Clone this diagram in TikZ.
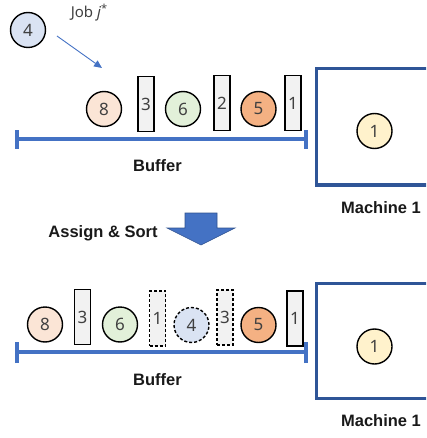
\documentclass[tikz,border=0pt]{standalone}
\usepackage{fontspec}
\setmainfont{Noto Sans}
\newfontfamily\lblfont{Liberation Sans}
\usetikzlibrary{arrows.meta}
\definecolor{bufblue}{HTML}{4472C4}
\definecolor{machblue}{HTML}{2F5597}
\definecolor{arrowedge}{HTML}{2F528F}
\definecolor{cpeach}{HTML}{FBE5D6}
\definecolor{cgreen}{HTML}{E2F0D9}
\definecolor{corange}{HTML}{F4B183}
\definecolor{cblue}{HTML}{DAE3F3}
\definecolor{cyellow}{HTML}{FFF2CC}
\definecolor{cgray}{HTML}{F2F2F2}
\definecolor{txtgray}{HTML}{404040}
\tikzset{
  job/.style={circle, draw=black, line width=1.4pt, minimum size=35pt, inner sep=0pt,
    font=\fontsize{17}{17}\selectfont, text=txtgray},
  bar/.style={rectangle, draw=black, line width=1.4pt, fill=cgray, minimum width=16pt,
    minimum height=55pt, inner sep=0pt, font=\fontsize{17}{17}\selectfont, text=txtgray},
  ghost/.style={dash pattern=on 3pt off 2pt},
  bufline/.style={draw=bufblue, line width=3.2pt},
  machbox/.style={draw=machblue, line width=3.2pt},
  lbl/.style={font=\lblfont\fontsize{16.5}{16.5}\selectfont\bfseries, text=black!90}
}
\begin{document}
\begin{tikzpicture}[x=1pt,y=-1pt]
\useasboundingbox (0,0) rectangle (426,438);
\clip (0,0) rectangle (426,438);
% ---------- top ----------
\node[job, fill=cblue] (j4) at (28,30) {4};
\node[font=\fontsize{15}{15}\selectfont, text=txtgray] (jl) at (89,13) {Job \textit{j}\raisebox{5pt}{\fontsize{11}{11}\selectfont *}};
\coordinate (arrS) at (57,36);
\coordinate (arrE) at (102,68);
\draw[bufblue, line width=0.9pt, -{Triangle[length=8pt,width=7pt]}] (arrS) -- (arrE);

\node[job, fill=cpeach] (t8) at (104,109) {8};
\node[bar] (t3) at (146,104) {3};
\node[job, fill=cgreen] (t6) at (183,109) {6};
\node[bar] (t2) at (222,103) {2};
\node[job, fill=corange] (t5) at (258.5,109) {5};
\node[bar] (t1) at (293,103) {1};

\coordinate (bl1) at (17,139);
\coordinate (br1) at (306,139);
\draw[bufline] (bl1) -- (br1);
\draw[bufline] ([yshift=-10pt]bl1) -- ([yshift=9pt]bl1);
\draw[bufline] ([yshift=-10pt]br1) -- ([yshift=9pt]br1);
\node[lbl] (buf1) at (157.5,166) {Buffer};

\draw[machbox] (316.5,68.5) rectangle (440,185);
\node[job, fill=cyellow] (m1) at (374.5,131) {1};
\node[lbl] (mach1) at (381,208) {Machine 1};

% ---------- middle ----------
\node[lbl] (as) at (103,233) {Assign \& Sort};
\filldraw[fill=bufblue, draw=arrowedge, line width=0.6pt]
  (185,213) -- (217,213) -- (217,228) -- (235,228) -- (201,245) -- (167,228) -- (185,228) -- cycle;

% ---------- bottom ----------
\node[job, fill=cpeach] (b8) at (45,324.5) {8};
\node[bar] (b3) at (82.5,317) {3};
\node[job, fill=cgreen] (b6) at (120,324.5) {6};
\node[bar, ghost] (b1d) at (157.5,318.5) {1};
\node[job, ghost, fill=cblue] (b4) at (191.5,325) {4};
\node[bar, ghost] (b3d) at (225,317.5) {3};
\node[job, fill=corange] (b5) at (258.5,325) {5};
\node[bar] (b1) at (295,318.5) {1};

\coordinate (bl2) at (17,352);
\coordinate (br2) at (306,352);
\draw[bufline] (bl2) -- (br2);
\draw[bufline] ([yshift=-11pt]bl2) -- ([yshift=10pt]bl2);
\draw[bufline] ([yshift=-11pt]br2) -- ([yshift=10pt]br2);
\node[lbl] (buf2) at (157.5,380) {Buffer};

\draw[machbox] (316.5,283.5) rectangle (440,398.5);
\node[job, fill=cyellow] (m2) at (374.5,346.5) {1};
\node[lbl] (mach2) at (381,421) {Machine 1};
\end{tikzpicture}
\end{document}
